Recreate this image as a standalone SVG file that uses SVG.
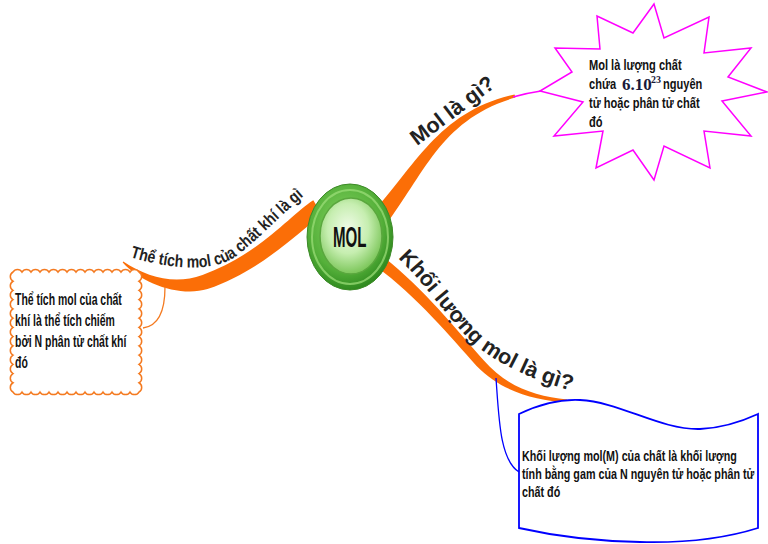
<svg xmlns="http://www.w3.org/2000/svg" width="768" height="544" viewBox="0 0 768 544">
<defs>
<radialGradient id="gOuter" cx="45%" cy="40%" r="60%">
<stop offset="0" stop-color="#8ad866"/>
<stop offset="0.7" stop-color="#55b03a"/>
<stop offset="1" stop-color="#2f8a1f"/>
</radialGradient>
<radialGradient id="gInner" cx="45%" cy="40%" r="60%">
<stop offset="0" stop-color="#f0fbe8"/>
<stop offset="0.55" stop-color="#c6eeb0"/>
<stop offset="1" stop-color="#7cc65a"/>
</radialGradient>
<path id="tp2" d="M398,258 C425,284 448,318 470,340 C490,360 530,380 576,392"/>
<path id="tp3" d="M130,257 C165,268 205,272 228,261 C248,251 276,218 316,186"/>
</defs>
<style>
.br{fill:#fb6e07}
.bt{font-family:"Liberation Sans",Arial,sans-serif;font-weight:bold;fill:#222}
.tx{font-family:"Liberation Sans",Arial,sans-serif;font-weight:bold;fill:#111}
.ser{font-family:"Liberation Serif","Times New Roman",serif;font-weight:bold;fill:#1a1a3a}
</style>
<rect width="768" height="544" fill="#fff"/>
<g id="connectors">
<path class="br" d="M384.9,225.8 C424.6,173.9 441,118.9 515.4,97.5 L514.6,94.5 C439,111.1 415.4,166.1 371.1,214.2 Z"/>
<path class="br" d="M376.4,266.8 C416.7,296.4 451.6,338 476.6,366 C502.4,392.3 534.8,400 566.9,402.5 L567.1,399.5 C535.2,396 507.6,387.7 483.4,360 C458.4,332 423.3,287.6 383.6,257.2 Z"/>
<path class="br" d="M313.3,200.3 C290.6,214.7 259.4,254.5 202.5,274.9 C175.9,284.9 147.6,278 123.3,261.6 L122.7,262.4 C142.4,284 180.1,297.1 207.5,289.1 C264.6,269.6 299.4,229.3 322.7,215.7 Z"/>
<path d="M513,97 Q527,93 541,91" fill="none" stroke="#ff00ff" stroke-width="1.5"/>
<path d="M143,328 C158,326 165,312 165,287" fill="none" stroke="#f47a20" stroke-width="1.3"/>
<path d="M496,378 C499,420 500,460 519,472" fill="none" stroke="#0000ff" stroke-width="1.3"/>
<text class="bt" font-size="21.5" transform="translate(417,146) rotate(-37)">Mol là gì?</text>
<text class="bt" font-size="21.5"><textPath href="#tp2">Khối lượng mol là gì?</textPath></text>
<text class="bt" font-size="17"><textPath href="#tp3" textLength="200" lengthAdjust="spacingAndGlyphs">Thể tích mol của chất khí là gì</textPath></text>
</g>
<g id="node-mol">
<ellipse cx="350" cy="237" rx="43" ry="53" fill="url(#gOuter)" stroke="#3c8a27" stroke-width="1"/>
<ellipse cx="350" cy="237" rx="38" ry="47" fill="none" stroke="#9ee07a" stroke-width="2" opacity="0.7"/>
<ellipse cx="351" cy="236" rx="31" ry="38" fill="url(#gInner)" stroke="#5aa73e" stroke-width="1.5"/>
<text class="tx" font-size="29" transform="translate(333,247) scale(0.52,1)">MOL</text>
</g>
<g id="node-star">
<polygon points="654,4 664,38 709,17 704,53 751,48 728,77 767,92 722,101 751,136 704,131 710,168 664,146 654,180 633,150 596,168 603,131 554,136 583,102 540,91 572,72 555,48 600,49 597,16 633,33" fill="#fff" stroke="#ff00ff" stroke-width="1.5"/>
<text class="tx" font-size="14" transform="translate(589,70) scale(0.79,1)">Mol là lượng chất</text>
<text class="tx" font-size="14" transform="translate(589,89) scale(0.79,1)">chứa</text>
<text class="tx" font-size="14" transform="translate(663,89) scale(0.79,1)">nguyên</text>
<text class="tx" font-size="14" transform="translate(589,108) scale(0.79,1)">tử hoặc phân tử chất</text>
<text class="tx" font-size="14" transform="translate(589,127) scale(0.79,1)">đó</text>
<text class="ser" x="622" y="90" font-size="17">6.10</text>
<text class="ser" x="651" y="83" font-size="10">23</text>
</g>
<g id="node-volume">
<path d="M13,272 a5.2,5.2 0 0 1 9,0 a5.2,5.2 0 0 1 9,0 a5.2,5.2 0 0 1 9,0 a5.2,5.2 0 0 1 9,0 a5.2,5.2 0 0 1 9,0 a5.2,5.2 0 0 1 9,0 a5.2,5.2 0 0 1 9,0 a5.2,5.2 0 0 1 9,0 a5.2,5.2 0 0 1 9,0 a5.2,5.2 0 0 1 9,0 a5.2,5.2 0 0 1 9,0 a5.2,5.2 0 0 1 9,0 a5.2,5.2 0 0 1 9,0 a5.2,5.2 0 0 1 9,0
a5.3,5.3 0 0 1 0,9.231 a5.3,5.3 0 0 1 0,9.231 a5.3,5.3 0 0 1 0,9.231 a5.3,5.3 0 0 1 0,9.231 a5.3,5.3 0 0 1 0,9.231 a5.3,5.3 0 0 1 0,9.231 a5.3,5.3 0 0 1 0,9.231 a5.3,5.3 0 0 1 0,9.231 a5.3,5.3 0 0 1 0,9.231 a5.3,5.3 0 0 1 0,9.231 a5.3,5.3 0 0 1 0,9.231 a5.3,5.3 0 0 1 0,9.231 a5.3,5.3 0 0 1 0,9.231
a5.2,5.2 0 0 1 -9,0 a5.2,5.2 0 0 1 -9,0 a5.2,5.2 0 0 1 -9,0 a5.2,5.2 0 0 1 -9,0 a5.2,5.2 0 0 1 -9,0 a5.2,5.2 0 0 1 -9,0 a5.2,5.2 0 0 1 -9,0 a5.2,5.2 0 0 1 -9,0 a5.2,5.2 0 0 1 -9,0 a5.2,5.2 0 0 1 -9,0 a5.2,5.2 0 0 1 -9,0 a5.2,5.2 0 0 1 -9,0 a5.2,5.2 0 0 1 -9,0 a5.2,5.2 0 0 1 -9,0
a5.3,5.3 0 0 1 0,-9.231 a5.3,5.3 0 0 1 0,-9.231 a5.3,5.3 0 0 1 0,-9.231 a5.3,5.3 0 0 1 0,-9.231 a5.3,5.3 0 0 1 0,-9.231 a5.3,5.3 0 0 1 0,-9.231 a5.3,5.3 0 0 1 0,-9.231 a5.3,5.3 0 0 1 0,-9.231 a5.3,5.3 0 0 1 0,-9.231 a5.3,5.3 0 0 1 0,-9.231 a5.3,5.3 0 0 1 0,-9.231 a5.3,5.3 0 0 1 0,-9.231 a5.3,5.3 0 0 1 0,-9.231 Z" fill="#fff" stroke="#f47a20" stroke-width="1.5"/>
<text class="tx" font-size="16" transform="translate(15,305) scale(0.654,1)">Thể tích mol của chất</text>
<text class="tx" font-size="16" transform="translate(15,326) scale(0.654,1)">khí là thể tích chiếm</text>
<text class="tx" font-size="16" transform="translate(15,347) scale(0.654,1)">bởi N phân tử chất khí</text>
<text class="tx" font-size="16" transform="translate(15,368) scale(0.654,1)">đó</text>
</g>
<g id="node-mass">
<path d="M519,414 C540,404 560,399 580,400 C620,402 660,430 700,429 C725,428 745,420 758,414 L758,528 C720,540 680,543 640,542 C590,541 550,535 519,528 Z" fill="#fff" stroke="#0000ff" stroke-width="1.8"/>
<text class="tx" font-size="15" transform="translate(522,461) scale(0.717,1)">Khối lượng mol(M) của chất là khối lượng</text>
<text class="tx" font-size="15" transform="translate(522,479) scale(0.717,1)">tính bằng gam của N nguyên tử hoặc phân tử</text>
<text class="tx" font-size="15" transform="translate(522,497) scale(0.717,1)">chất đó</text>
</g>
</svg>
